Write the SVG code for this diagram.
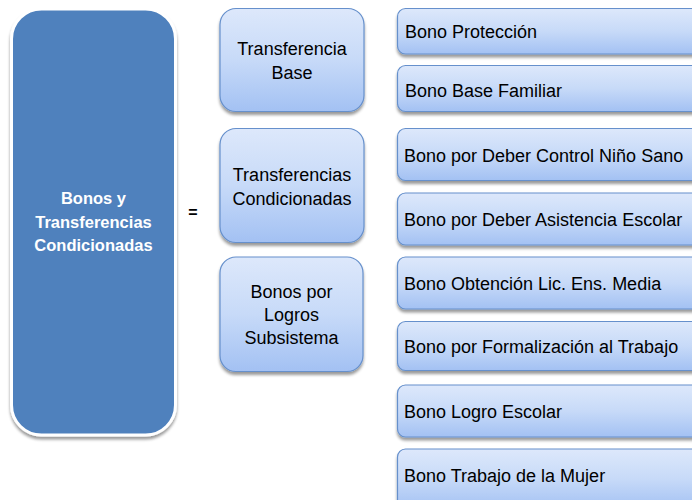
<svg xmlns="http://www.w3.org/2000/svg" width="692" height="500" viewBox="0 0 692 500">
<defs>
<linearGradient id="g" x1="0" y1="0" x2="0" y2="1">
<stop offset="0" stop-color="#dde8fb"/>
<stop offset="0.5" stop-color="#c7daf8"/>
<stop offset="1" stop-color="#a3c1f3"/>
</linearGradient>
<filter id="sh" x="-10%" y="-10%" width="130%" height="130%">
<feGaussianBlur in="SourceAlpha" stdDeviation="1.5"/>
<feOffset dx="0" dy="2.5" result="b"/>
<feComponentTransfer><feFuncA type="linear" slope="0.4"/></feComponentTransfer>
<feMerge><feMergeNode/><feMergeNode in="SourceGraphic"/></feMerge>
</filter>
<style>
.mid{fill:url(#g);stroke:#6690cc;stroke-width:1.2;filter:url(#sh)}
.bono{fill:url(#g);stroke:#6690cc;stroke-width:1.2;filter:url(#sh)}
.t{font-family:"Liberation Sans",Arial,sans-serif;font-size:18px;fill:#000}
.c{text-anchor:middle}
.w{font-family:"Liberation Sans",Arial,sans-serif;font-size:16.5px;font-weight:bold;fill:#fff;text-anchor:middle}
</style>
</defs>
<rect width="692" height="500" fill="#fff"/>
<g id="main">
<rect x="11.5" y="9" width="164" height="426" rx="30" fill="#4f81bd" stroke="#fff" stroke-width="3" filter="url(#sh)"/>
<text class="w" x="93.5" y="204">Bonos y</text>
<text class="w" x="93.5" y="228">Transferencias</text>
<text class="w" x="93.5" y="251">Condicionadas</text>
</g>
<g id="equals">
<text x="193" y="218" font-family="Liberation Sans,Arial,sans-serif" font-size="16" font-weight="bold" text-anchor="middle">=</text>
</g>
<g id="transferencia-base">
<rect class="mid" x="220" y="8.5" width="144" height="103" rx="16"/>
<text class="t c" x="292" y="55">Transferencia</text>
<text class="t c" x="292" y="79">Base</text>
</g>
<g id="transferencias-condicionadas">
<rect class="mid" x="220" y="128.5" width="144" height="114" rx="16"/>
<text class="t c" x="292" y="181">Transferencias</text>
<text class="t c" x="292" y="205">Condicionadas</text>
</g>
<g id="bonos-logros">
<rect class="mid" x="220" y="257" width="143" height="114.5" rx="16"/>
<text class="t c" x="291.5" y="298">Bonos por</text>
<text class="t c" x="291.5" y="321">Logros</text>
<text class="t c" x="291.5" y="344">Subsistema</text>
</g>
<g id="bono-proteccion">
<rect class="bono" x="397.5" y="8.5" width="310" height="45.5" rx="8"/>
<text class="t" x="405" y="38">Bono Protección</text>
</g>
<g id="bono-base-familiar">
<rect class="bono" x="397.5" y="65.5" width="310" height="46" rx="8"/>
<text class="t" x="405" y="97">Bono Base Familiar</text>
</g>
<g id="bono-control-nino-sano">
<rect class="bono" x="397.5" y="128.5" width="310" height="52" rx="8"/>
<text class="t" x="404" y="162">Bono por Deber Control Niño Sano</text>
</g>
<g id="bono-asistencia-escolar">
<rect class="bono" x="397.5" y="193" width="310" height="52" rx="8"/>
<text class="t" x="404" y="226">Bono por Deber Asistencia Escolar</text>
</g>
<g id="bono-lic-ens-media">
<rect class="bono" x="397.5" y="257" width="310" height="52" rx="8"/>
<text class="t" x="404" y="290">Bono Obtención Lic. Ens. Media</text>
</g>
<g id="bono-formalizacion">
<rect class="bono" x="397.5" y="321.5" width="310" height="49" rx="8"/>
<text class="t" x="404" y="353">Bono por Formalización al Trabajo</text>
</g>
<g id="bono-logro-escolar">
<rect class="bono" x="397.5" y="385" width="310" height="52" rx="8"/>
<text class="t" x="404" y="418">Bono Logro Escolar</text>
</g>
<g id="bono-trabajo-mujer">
<rect class="bono" x="397.5" y="449" width="310" height="60" rx="8"/>
<text class="t" x="404" y="482">Bono Trabajo de la Mujer</text>
</g>
<g id="connectors"/>
</svg>
